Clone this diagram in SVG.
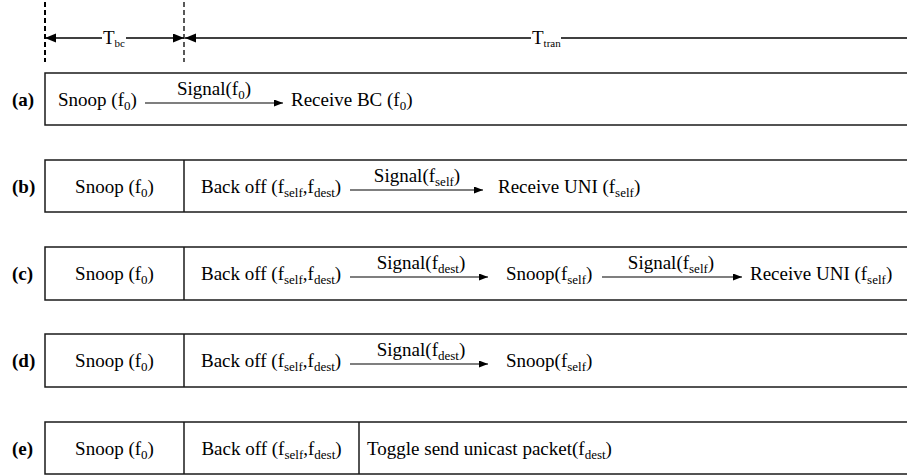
<svg xmlns="http://www.w3.org/2000/svg" width="907" height="476" viewBox="0 0 907 476">
<style>
text{font-family:"Liberation Serif","Times New Roman",serif;font-size:19px;fill:#000}
.lbl{font-weight:bold}
.sub{font-size:13px}
.tsub{font-size:11px}
.box{fill:none;stroke:#1a1a1a;stroke-width:1.5}
.div{stroke:#1a1a1a;stroke-width:1.5}
.conn{stroke:#000;stroke-width:1.2;fill:none;marker-end:url(#ah)}
.dim{stroke:#000;stroke-width:1.3;fill:none}
.dash{stroke:#000;stroke-dasharray:5 3;fill:none}
</style>
<defs>
<marker id="ah" markerUnits="userSpaceOnUse" markerWidth="10" markerHeight="8" refX="9" refY="3.5" orient="auto"><path d="M0,0 L9,3.5 L0,7 z" fill="#000"/></marker>
<marker id="bh" markerUnits="userSpaceOnUse" markerWidth="12" markerHeight="10" refX="11" refY="4.5" orient="auto-start-reverse"><path d="M0,0 L11,4.5 L0,9 z" fill="#000"/></marker>
</defs>

<g id="timeline">
<line class="dash" x1="45" y1="2" x2="45" y2="62" stroke-width="2"/>
<line class="dash" x1="184" y1="2" x2="184" y2="62" stroke-width="1.3"/>
<line class="dim" x1="45" y1="38" x2="102" y2="38" marker-start="url(#bh)"/>
<line class="dim" x1="126" y1="38" x2="184" y2="38" marker-end="url(#bh)"/>
<line class="dim" x1="185" y1="38" x2="531" y2="38" marker-start="url(#bh)"/>
<line class="dim" x1="561" y1="38" x2="907" y2="38"/>
<text x="103" y="44" font-size="17">T<tspan class="tsub" dy="3">bc</tspan></text>
<text x="532" y="44" font-size="17">T<tspan class="tsub" dy="3">tran</tspan></text>
</g>

<g id="row-a">
<text class="lbl" x="12" y="106">(a)</text>
<rect class="box" x="45" y="73" width="880" height="52"/>
<g id="a-snoop"><text x="58" y="106">Snoop (f<tspan class="sub" dy="4">0</tspan><tspan dy="-4">)</tspan></text></g>
<g id="a-receive"><text x="291" y="106">Receive BC (f<tspan class="sub" dy="4">0</tspan><tspan dy="-4">)</tspan></text></g>
</g>

<g id="row-b">
<text class="lbl" x="12" y="193">(b)</text>
<rect class="box" x="45" y="160" width="880" height="52"/>
<line class="div" x1="184" y1="160" x2="184" y2="212"/>
<g id="b-snoop"><text x="114.5" y="193" text-anchor="middle">Snoop (f<tspan class="sub" dy="4">0</tspan><tspan dy="-4">)</tspan></text></g>
<g id="b-backoff"><text x="201" y="193">Back off (f<tspan class="sub" dy="4">self</tspan><tspan dy="-4">,f</tspan><tspan class="sub" dy="4">dest</tspan><tspan dy="-4">)</tspan></text></g>
<g id="b-receive"><text x="498" y="193">Receive UNI (f<tspan class="sub" dy="4">self</tspan><tspan dy="-4">)</tspan></text></g>
</g>

<g id="row-c">
<text class="lbl" x="12" y="280">(c)</text>
<rect class="box" x="45" y="247" width="880" height="53"/>
<line class="div" x1="184" y1="247" x2="184" y2="300"/>
<g id="c-snoop"><text x="114.5" y="280" text-anchor="middle">Snoop (f<tspan class="sub" dy="4">0</tspan><tspan dy="-4">)</tspan></text></g>
<g id="c-backoff"><text x="201" y="280">Back off (f<tspan class="sub" dy="4">self</tspan><tspan dy="-4">,f</tspan><tspan class="sub" dy="4">dest</tspan><tspan dy="-4">)</tspan></text></g>
<g id="c-snoopself"><text x="506" y="280">Snoop(f<tspan class="sub" dy="4">self</tspan><tspan dy="-4">)</tspan></text></g>
<g id="c-receive"><text x="750" y="280">Receive UNI (f<tspan class="sub" dy="4">self</tspan><tspan dy="-4">)</tspan></text></g>
</g>

<g id="row-d">
<text class="lbl" x="12" y="367">(d)</text>
<rect class="box" x="45" y="334" width="880" height="53"/>
<line class="div" x1="184" y1="334" x2="184" y2="387"/>
<g id="d-snoop"><text x="114.5" y="367" text-anchor="middle">Snoop (f<tspan class="sub" dy="4">0</tspan><tspan dy="-4">)</tspan></text></g>
<g id="d-backoff"><text x="201" y="367">Back off (f<tspan class="sub" dy="4">self</tspan><tspan dy="-4">,f</tspan><tspan class="sub" dy="4">dest</tspan><tspan dy="-4">)</tspan></text></g>
<g id="d-snoopself"><text x="506" y="367">Snoop(f<tspan class="sub" dy="4">self</tspan><tspan dy="-4">)</tspan></text></g>
</g>

<g id="row-e">
<text class="lbl" x="12" y="455">(e)</text>
<rect class="box" x="45" y="422" width="880" height="52"/>
<line class="div" x1="184" y1="422" x2="184" y2="474"/>
<line class="div" x1="359" y1="422" x2="359" y2="474"/>
<g id="e-snoop"><text x="114.5" y="455" text-anchor="middle">Snoop (f<tspan class="sub" dy="4">0</tspan><tspan dy="-4">)</tspan></text></g>
<g id="e-backoff"><text x="271.5" y="455" text-anchor="middle">Back off (f<tspan class="sub" dy="4">self</tspan><tspan dy="-4">,f</tspan><tspan class="sub" dy="4">dest</tspan><tspan dy="-4">)</tspan></text></g>
<g id="e-toggle"><text x="367" y="455">Toggle send unicast packet(f<tspan class="sub" dy="4">dest</tspan><tspan dy="-4">)</tspan></text></g>
</g>

<g id="connectors">
<line class="conn" x1="145" y1="103" x2="283" y2="103"/>
<text x="214" y="95" text-anchor="middle">Signal(f<tspan class="sub" dy="4">0</tspan><tspan dy="-4">)</tspan></text>
<line class="conn" x1="350" y1="190" x2="483" y2="190"/>
<text x="417" y="182" text-anchor="middle">Signal(f<tspan class="sub" dy="4">self</tspan><tspan dy="-4">)</tspan></text>
<line class="conn" x1="350" y1="277" x2="488" y2="277"/>
<text x="421" y="269" text-anchor="middle">Signal(f<tspan class="sub" dy="4">dest</tspan><tspan dy="-4">)</tspan></text>
<line class="conn" x1="602" y1="277" x2="742" y2="277"/>
<text x="671" y="269" text-anchor="middle">Signal(f<tspan class="sub" dy="4">self</tspan><tspan dy="-4">)</tspan></text>
<line class="conn" x1="350" y1="364" x2="488" y2="364"/>
<text x="421" y="356" text-anchor="middle">Signal(f<tspan class="sub" dy="4">dest</tspan><tspan dy="-4">)</tspan></text>
</g>
</svg>
